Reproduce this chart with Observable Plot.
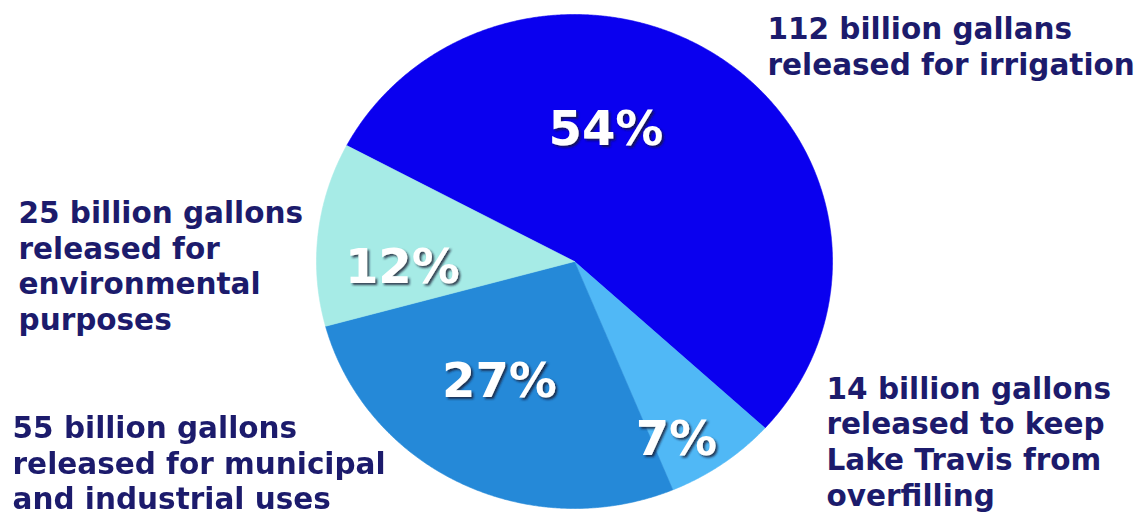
<!DOCTYPE html>
<html><head><meta charset="utf-8">
<script src="https://cdn.jsdelivr.net/npm/d3@7"></script>
<script src="https://cdn.jsdelivr.net/npm/@observablehq/plot@0.6"></script>
<style>
html,body{margin:0;padding:0;background:#fff;}
</style>
</head><body><div id="chart"></div>
<script>
// ---- data ----
const categories = ["irrigation", "lake", "municipal", "environmental"];
const percents = [54, 7, 27, 12];
const gallons = [112, 14, 55, 25];
const units = ["gallans", "gallons", "gallons", "gallons"];
const descriptions = [
  "released for irrigation",
  "released to keep\nLake Travis from\noverfilling",
  "released for municipal\nand industrial uses",
  "released for\nenvironmental\npurposes"
];
const colors = ["#0a00ef", "#50b8f6", "#2589d8", "#a6ebe6"];

// ---- layout (in pie-radius units) ----
const cx = 574, cy = 261, RX = 258, RY = 247;
const startDeg = 298;
const pctPos = [[0.122, 0.470], [0.395, -0.785], [-0.291, -0.547], [-0.667, -0.089]];
const labelPos = [[0.748, 1.004], [0.977, -0.453], [-2.178, -0.612], [-2.155, 0.259]];

const a0 = startDeg * Math.PI / 180;
const arcs = d3.pie().sort(null).startAngle(a0).endAngle(a0 + 2 * Math.PI)(percents);
const slicePts = [];
arcs.forEach((a, i) => {
  const cat = categories[i];
  slicePts.push({cat, x: 0, y: 0});
  const n = Math.max(2, Math.ceil((a.endAngle - a.startAngle) / 0.005));
  for (let k = 0; k <= n; k++) {
    const t = a.startAngle + (a.endAngle - a.startAngle) * k / n;
    slicePts.push({cat, x: Math.sin(t), y: Math.cos(t)});
  }
  slicePts.push({cat, x: 0, y: 0});
});

const pctData = categories.map((c, i) => ({cat: c, x: pctPos[i][0], y: pctPos[i][1], text: percents[i] + "%"}));
const labelData = categories.map((c, i) => ({cat: c, x: labelPos[i][0], y: labelPos[i][1],
  text: `${gallons[i]} billion ${units[i]}\n${descriptions[i]}`}));

const font = "'DejaVu Sans', sans-serif";
const chart = Plot.plot({
  width: 1143, height: 516,
  margin: 0,
  style: {background: "#fff", fontFamily: font},
  x: {domain: [-1, 1], range: [cx - RX, cx + RX], axis: null},
  y: {domain: [-1, 1], range: [cy + RY, cy - RY], axis: null},
  color: {domain: categories, range: colors},
  marks: [
    Plot.line(slicePts, {x: "x", y: "y", z: "cat", fill: "cat", stroke: "cat", strokeWidth: 0.6, curve: "linear"}),
    Plot.text(pctData, {x: "x", y: "y", text: "text", fill: "#ffffff", lineAnchor: "bottom",
      fontSize: 48, fontWeight: "bold", fontFamily: font}),
    Plot.text(labelData, {x: "x", y: "y", text: "text", fill: "#1c1b6c", textAnchor: "start", lineAnchor: "top",
      lineHeight: 1.21, fontSize: 29.5, fontWeight: "bold", fontFamily: font})
  ]
});

// drop shadow for the white percentage labels
const svg = d3.select(chart);
const filter = svg.insert("defs", ":first-child").append("filter")
  .attr("id", "pct-shadow").attr("x", "-20%").attr("y", "-20%").attr("width", "140%").attr("height", "140%");
filter.append("feDropShadow").attr("dx", 2).attr("dy", 2).attr("stdDeviation", 1)
  .attr("flood-color", "#19192d").attr("flood-opacity", 0.8);
svg.selectAll("g[aria-label='text']").filter((d, i) => i === 0).attr("filter", "url(#pct-shadow)");

document.getElementById("chart").appendChild(chart);
</script>
</body></html>
